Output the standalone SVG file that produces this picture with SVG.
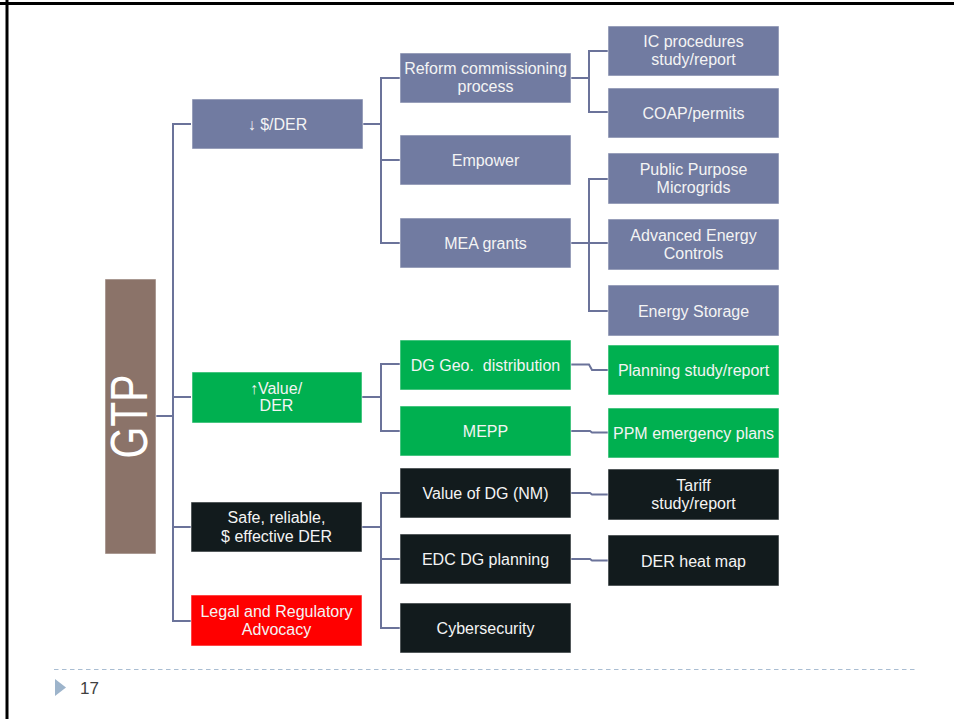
<svg xmlns="http://www.w3.org/2000/svg" width="954" height="719" viewBox="0 0 954 719">
<style>
.box{stroke:#ffffff;stroke-opacity:0.55;stroke-width:1}
.slate{fill:#717BA1}
.green{fill:#00B050}
.dark{fill:#121B1D}
.red{fill:#FF0000}
.t{font-family:"Liberation Sans",Arial,sans-serif;font-size:16px;fill:#F4F4F4;text-anchor:middle}
.conn{fill:none;stroke:#6B739A;stroke-width:2}
</style>
<rect width="954" height="719" fill="#ffffff"/>
<line x1="0" y1="3.5" x2="954" y2="3.5" stroke="#000" stroke-width="3"/>
<line x1="7" y1="0" x2="7" y2="719" stroke="#000" stroke-width="3"/>

<g id="connectors" class="conn">
<path d="M156 416 H173 M191 124 H173 V621 H191 M173 397 H191 M173 527 H191"/>
<path d="M363 124 H381 M400 78 H381 V243 H400 M381 160 H400"/>
<path d="M362 397 H381 M400 364 H381 V431 H400"/>
<path d="M362 527 H381 M400 493 H381 V628 H400 M381 559 H400"/>
<path d="M571 78 H589 M608 51 H589 V112 H608"/>
<path d="M571 243 H608 M608 179 H589 V311 H608"/>
<path d="M571 364.5 H589 L592 370 H608"/>
<path d="M571 431 H590 L592 432.5 H608"/>
<path d="M571 493 H590 L592 494.5 H608"/>
<path d="M571 559 H590 L592 560.5 H608"/>
</g>

<g id="gtp">
<rect x="105" y="279" width="51" height="275" fill="#8B7369" class="box"/>
<text transform="translate(147 416.5) rotate(-90)" font-family="'Liberation Sans',Arial,sans-serif" font-size="51" fill="#ffffff" text-anchor="middle" textLength="84" lengthAdjust="spacingAndGlyphs">GTP</text>
</g>

<g id="cost-der">
<rect x="192" y="99" width="171" height="50" class="box slate"/>
<text x="277.5" y="130" class="t">↓ $/DER</text>
</g>
<g id="value-der">
<rect x="192" y="372" width="170" height="51" class="box green"/>
<text x="276" y="394" class="t">↑Value/</text>
<text x="276.5" y="411" class="t">DER</text>
</g>
<g id="safe-der">
<rect x="191" y="502" width="171" height="50" class="box dark"/>
<text x="276.5" y="523" class="t">Safe, reliable,</text>
<text x="276.5" y="541.5" class="t">$ effective DER</text>
</g>
<g id="legal">
<rect x="191" y="595" width="171" height="51" class="box red"/>
<text x="276.5" y="617" class="t">Legal and Regulatory</text>
<text x="276.5" y="635" class="t">Advocacy</text>
</g>

<g id="reform">
<rect x="400" y="53" width="171" height="50" class="box slate"/>
<text x="485.5" y="74" class="t">Reform commissioning</text>
<text x="485.5" y="92" class="t">process</text>
</g>
<g id="empower">
<rect x="400" y="135" width="171" height="50" class="box slate"/>
<text x="485.5" y="166" class="t">Empower</text>
</g>
<g id="mea">
<rect x="400" y="218" width="171" height="50" class="box slate"/>
<text x="485.5" y="249" class="t">MEA grants</text>
</g>
<g id="dg-geo">
<rect x="400" y="340" width="171" height="50" class="box green"/>
<text x="485.5" y="371" class="t">DG Geo.&#160; distribution</text>
</g>
<g id="mepp">
<rect x="400" y="406" width="171" height="50" class="box green"/>
<text x="485.5" y="437" class="t">MEPP</text>
</g>
<g id="value-dg">
<rect x="400" y="468" width="171" height="50" class="box dark"/>
<text x="485.5" y="499" class="t">Value of DG (NM)</text>
</g>
<g id="edc">
<rect x="400" y="534" width="171" height="50" class="box dark"/>
<text x="485.5" y="565" class="t">EDC DG planning</text>
</g>
<g id="cyber">
<rect x="400" y="603" width="171" height="50" class="box dark"/>
<text x="485.5" y="634" class="t">Cybersecurity</text>
</g>

<g id="ic">
<rect x="608" y="26" width="171" height="50" class="box slate"/>
<text x="693.5" y="47" class="t">IC procedures</text>
<text x="693.5" y="65" class="t">study/report</text>
</g>
<g id="coap">
<rect x="608" y="88" width="171" height="50" class="box slate"/>
<text x="693.5" y="119" class="t">COAP/permits</text>
</g>
<g id="microgrids">
<rect x="608" y="153" width="171" height="51" class="box slate"/>
<text x="693.5" y="175" class="t">Public Purpose</text>
<text x="693.5" y="193" class="t">Microgrids</text>
</g>
<g id="aec">
<rect x="608" y="219" width="171" height="51" class="box slate"/>
<text x="693.5" y="241" class="t">Advanced Energy</text>
<text x="693.5" y="259" class="t">Controls</text>
</g>
<g id="storage">
<rect x="608" y="285" width="171" height="51" class="box slate"/>
<text x="693.5" y="316.5" class="t">Energy Storage</text>
</g>
<g id="planning">
<rect x="608" y="345" width="171" height="50" class="box green"/>
<text x="693.5" y="376" class="t">Planning study/report</text>
</g>
<g id="ppm">
<rect x="608" y="408" width="171" height="50" class="box green"/>
<text x="693.5" y="439" class="t">PPM emergency plans</text>
</g>
<g id="tariff">
<rect x="608" y="469" width="171" height="51" class="box dark"/>
<text x="693.5" y="491" class="t">Tariff</text>
<text x="693.5" y="509" class="t">study/report</text>
</g>
<g id="heatmap">
<rect x="608" y="535" width="171" height="51" class="box dark"/>
<text x="693.5" y="566.5" class="t">DER heat map</text>
</g>

<line x1="54" y1="669.5" x2="918" y2="669.5" stroke="#A9BDD2" stroke-width="1" stroke-dasharray="4.5 3.5"/>
<polygon points="55,679 66,687.5 55,696" fill="#9DB4CB"/>
<text x="80" y="694" font-family="'Liberation Sans',Arial,sans-serif" font-size="17" fill="#404040">17</text>
</svg>
